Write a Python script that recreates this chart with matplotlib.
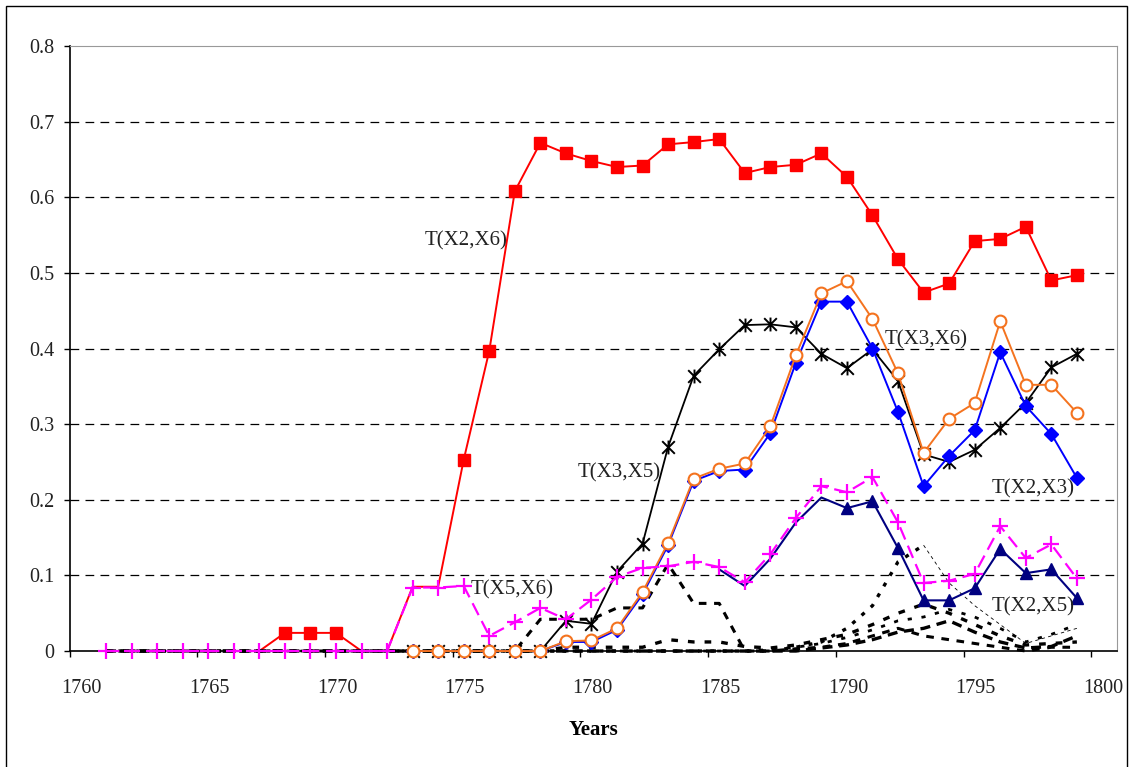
import numpy as np
import matplotlib
matplotlib.use("Agg")
import matplotlib.pyplot as plt
import matplotlib.transforms as mtransforms
from matplotlib.path import Path
from matplotlib.patches import Rectangle

nan = np.nan

# -----------------------------
# Data
# -----------------------------
years = list(range(1761, 1800))

# T(X2,X6) - red squares
t_x2_x6 = [nan, nan, nan, nan, nan, nan, 0.0,
           0.024, 0.024, 0.024,
           0.0, 0.0, 0.085, 0.085,
           0.253, 0.397, 0.608, 0.672, 0.658, 0.648, 0.640, 0.642, 0.670,
           0.673, 0.677, 0.632, 0.640, 0.643, 0.658, 0.627, 0.576, 0.518,
           0.474, 0.486, 0.542, 0.545, 0.561, 0.490, 0.497]
red_marker_years = [1768, 1769, 1770] + list(range(1775, 1800))

# T(X2,X3) - blue diamonds
t_x2_x3 = [nan] * 12 + [0.0] * 6 + [
    0.012, 0.012, 0.028, 0.075, 0.140, 0.225, 0.238, 0.240, 0.288, 0.381,
    0.462, 0.462, 0.400, 0.316, 0.218, 0.258, 0.292, 0.395, 0.324, 0.287,
    0.229]

# T(X3,X6) - orange open circles
t_x3_x6 = [nan] * 12 + [0.0] * 6 + [
    0.013, 0.014, 0.030, 0.078, 0.143, 0.228, 0.241, 0.248, 0.297, 0.391,
    0.473, 0.489, 0.439, 0.367, 0.262, 0.307, 0.328, 0.436, 0.352, 0.352,
    0.315]

# T(X3,X5) - black stars
t_x3_x5 = [nan] * 12 + [0.0] * 6 + [
    0.040, 0.036, 0.105, 0.142, 0.270, 0.364, 0.399, 0.431, 0.432, 0.428,
    0.393, 0.374, 0.399, 0.357, 0.260, 0.250, 0.266, 0.295, 0.328, 0.375,
    0.393]

# T(X5,X6) - magenta crosses
t_x5_x6 = [0.0] * 12 + [
    0.084, 0.084, 0.086, 0.020, 0.038, 0.057, 0.042, 0.068, 0.098, 0.110,
    0.112, 0.118, 0.111, 0.091, 0.128, 0.176, 0.218, 0.210, 0.230, 0.170,
    0.090, 0.093, 0.102, 0.165, 0.123, 0.141, 0.096]

# T(X2,X5) - navy triangles
t_x2_x5 = [nan] * 24 + [
    0.108, 0.086, 0.122, 0.170, 0.203, 0.189, 0.198, 0.136, 0.067, 0.067,
    0.083, 0.135, 0.103, 0.108, 0.070]
navy_marker_years = list(range(1790, 1800))

# remaining pairs (unlabelled black dotted lines)
other_a = [0.0] * 17 + [
    0.042, 0.042, 0.042, 0.057, 0.057, 0.115, 0.063, 0.063, 0.0, 0.0,
    0.003, 0.005, 0.010, 0.020, 0.030, 0.020, 0.015, 0.010, 0.005, 0.0,
    0.005, 0.005]
other_b = [0.0] * 27 + [
    0.005, 0.012, 0.030, 0.060, 0.118, 0.140, 0.090, 0.060, 0.035, 0.010,
    0.020, 0.030]
other_c = [0.0] * 18 + [
    0.005, 0.005, 0.005, 0.005, 0.015, 0.012, 0.012, 0.006, 0.004, 0.008,
    0.015, 0.022, 0.035, 0.050, 0.062, 0.050, 0.035, 0.020, 0.008, 0.010,
    0.012]
other_d = [0.0] * 26 + [
    0.002, 0.005, 0.010, 0.018, 0.028, 0.040, 0.045, 0.055, 0.045, 0.030,
    0.012, 0.022, 0.035]
other_e = [0.0] * 28 + [
    0.004, 0.008, 0.015, 0.025, 0.030, 0.040, 0.025, 0.012, 0.004, 0.006,
    0.020]

y_ticks = [0, 0.1, 0.2, 0.3, 0.4, 0.5, 0.6, 0.7, 0.8]
y_tick_labels = ["0", "0.1", "0.2", "0.3", "0.4", "0.5", "0.6", "0.7", "0.8"]
x_ticks = [1760, 1765, 1770, 1775, 1780, 1785, 1790, 1795, 1800]

# -----------------------------
# Figure
# -----------------------------
plt.rcParams["font.family"] = ["Liberation Serif", "DejaVu Serif"]

fig = plt.figure(figsize=(11.34, 7.67), dpi=100)
ax = fig.add_axes([0.0613, 0.1512, 0.9237, 0.7888])

x = np.array(years) + 0.43  # points sit a bit right of the year ticks


def mask_for(sel_years):
    return [y in sel_years for y in years]


star = Path([(-1, -1), (1, 1), (-1, 1), (1, -1), (0, -1.1), (0, 1.1)],
            [Path.MOVETO, Path.LINETO] * 3)

ax.plot(x, t_x2_x6, color="#ff0000", lw=1.4, marker="s", ms=8,
        markevery=mask_for(red_marker_years), zorder=3, clip_on=False)

dots = dict(color="black", zorder=4, clip_on=False)
ax.plot(x, other_a, lw=2.2, dashes=(2.5, 2.5), **dots)
ax.plot(x[:33], other_b[:33], lw=2.4, dashes=(1.2, 2.5), **dots)
ax.plot(x[32:], other_b[32:], lw=0.6, dashes=(4, 4), **dots)
ax.plot(x, other_c, lw=2.4, dashes=(2, 3), **dots)
ax.plot(x, other_d, lw=2.0, dashes=(1.5, 3.5), **dots)
ax.plot(x, other_e, lw=2.4, dashes=(3, 2), **dots)

ax.plot(x, t_x2_x5, color="#000080", lw=1.5, marker="^", ms=9,
        markevery=mask_for(navy_marker_years), zorder=5, clip_on=False)
ax.plot(x, t_x3_x5, color="black", lw=1.3, marker=star, ms=10, mew=1.4,
        zorder=6, clip_on=False)
ax.plot(x, t_x2_x3, color="#0000ff", lw=1.4, marker="D", ms=7, zorder=7,
        clip_on=False)
ax.plot(x, t_x3_x6, color="#f4731f", lw=1.4, marker="o", ms=8.5,
        mfc="white", mec="#f4731f", mew=1.5, zorder=8, clip_on=False)
ax.plot(x, t_x5_x6, color="#ff00ff", lw=1.6, dashes=(6, 3), marker="+",
        ms=11, mew=1.6, zorder=9, clip_on=False)

# labels on the curves
lab = dict(fontsize=15, color="#222222", va="center", ha="left", zorder=10)
ax.text(1773.9, 0.543, "T(X2,X6)", **lab)
ax.text(1791.9, 0.412, "T(X3,X6)", **lab)
ax.text(1779.9, 0.235, "T(X3,X5)", **lab)
ax.text(1775.7, 0.081, "T(X5,X6)", **lab)
ax.text(1796.1, 0.215, "T(X2,X3)", **lab)
ax.text(1796.1, 0.058, "T(X2,X5)", **lab)

# axes styling
ax.set_xlim(1760, 1801)
ax.set_ylim(0, 0.8)
ax.set_yticks(y_ticks)
ax.set_yticklabels(y_tick_labels)
ax.set_xticks(x_ticks)
ax.tick_params(axis="both", direction="out", length=4, width=1,
               labelsize=14.5, colors="black", labelcolor="#222222")
ax.tick_params(axis="y", pad=7)
ax.tick_params(axis="x", pad=16)

for gy in y_ticks[1:-1]:
    ax.axhline(gy, color="black", lw=0.9, dashes=(7, 5), zorder=1)

ax.spines["left"].set_linewidth(1.2)
ax.spines["bottom"].set_linewidth(1.2)
ax.spines["top"].set_color("#999999")
ax.spines["right"].set_color("#999999")

ax.set_xlabel("Years", fontsize=15, fontweight="bold", labelpad=16)

offset = mtransforms.ScaledTranslation(12 / 100, 0, fig.dpi_scale_trans)
for lbl in ax.get_xticklabels():
    lbl.set_transform(lbl.get_transform() + offset)

# outer frame
fig.patches.append(Rectangle((6 / 1134, -0.05), 1121 / 1134, 1.05 - 6 / 767,
                             transform=fig.transFigure, fill=False,
                             edgecolor="black", lw=1))

fig.savefig("out.png", dpi=100)
